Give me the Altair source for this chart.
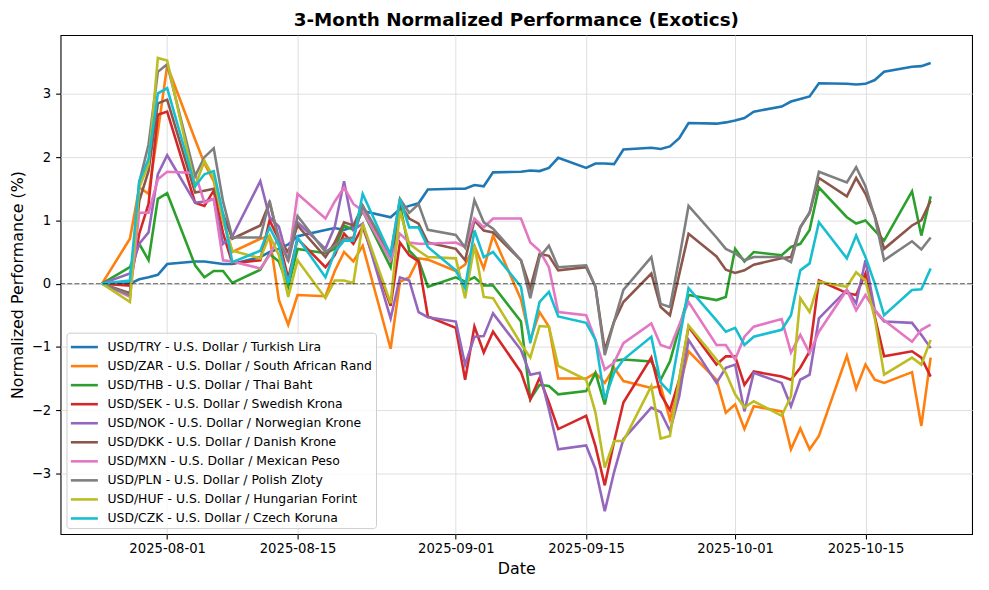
import altair as alt
import pandas as pd

DATES = [
    "2025-07-25",
    "2025-07-28", "2025-07-29", "2025-07-30", "2025-07-31", "2025-08-01",
    "2025-08-04", "2025-08-05", "2025-08-06", "2025-08-07", "2025-08-08",
    "2025-08-11", "2025-08-12", "2025-08-13", "2025-08-14", "2025-08-15",
    "2025-08-18", "2025-08-19", "2025-08-20", "2025-08-21", "2025-08-22",
    "2025-08-25", "2025-08-26", "2025-08-27", "2025-08-28", "2025-08-29",
    "2025-09-01", "2025-09-02", "2025-09-03", "2025-09-04", "2025-09-05",
    "2025-09-08", "2025-09-09", "2025-09-10", "2025-09-11", "2025-09-12",
    "2025-09-15", "2025-09-16", "2025-09-17", "2025-09-18", "2025-09-19",
    "2025-09-22", "2025-09-23", "2025-09-24", "2025-09-25", "2025-09-26",
    "2025-09-29", "2025-09-30", "2025-10-01", "2025-10-02", "2025-10-03",
    "2025-10-06", "2025-10-07", "2025-10-08", "2025-10-09", "2025-10-10",
    "2025-10-13", "2025-10-14", "2025-10-15", "2025-10-16", "2025-10-17",
    "2025-10-20", "2025-10-21", "2025-10-22",
]

SERIES = [
    "USD/TRY - U.S. Dollar / Turkish Lira",
    "USD/ZAR - U.S. Dollar / South African Rand",
    "USD/THB - U.S. Dollar / Thai Baht",
    "USD/SEK - U.S. Dollar / Swedish Krona",
    "USD/NOK - U.S. Dollar / Norwegian Krone",
    "USD/DKK - U.S. Dollar / Danish Krone",
    "USD/MXN - U.S. Dollar / Mexican Peso",
    "USD/PLN - U.S. Dollar / Polish Zloty",
    "USD/HUF - U.S. Dollar / Hungarian Forint",
    "USD/CZK - U.S. Dollar / Czech Koruna",
]

COLORS = ["#1f77b4", "#ff7f0e", "#2ca02c", "#d62728", "#9467bd",
          "#8c564b", "#e377c2", "#7f7f7f", "#bcbd22", "#17becf"]

TRY = [0, 0.0, 0.07, 0.1, 0.14, 0.31, 0.35, 0.35, 0.33, 0.31, 0.31,
       0.42, 0.5, 0.55, 0.62, 0.75,
       0.85, 0.88, 0.85, 0.9, 1.15,
       1.05, 1.18, 1.23, 1.27, 1.49,
       1.5, 1.5, 1.56, 1.54, 1.76,
       1.77, 1.79, 1.78, 1.83, 1.99,
       1.83, 1.9, 1.9, 1.89, 2.12,
       2.15, 2.13, 2.17, 2.3, 2.54,
       2.53, 2.55, 2.58, 2.62, 2.72,
       2.8, 2.88, 2.92, 2.96, 3.17,
       3.16, 3.15, 3.16, 3.22, 3.35,
       3.43, 3.44, 3.49]

ZAR = [0, 0.71, 1.52, 1.42, 2.4, 3.45, 2.28, 1.9, 1.62, 1.0, 0.5,
       0.71, 0.75, -0.26, -0.65, -0.18,
       -0.2, 0.2, 0.5, 0.35, 0.6,
       -1.03, 0.03, 0.1, 0.4, 0.38,
       0.2, 0.3, 0.6, 0.24, 0.76,
       -0.25, -0.89, -0.45, -0.68, -1.5,
       -1.5, -1.41, -1.57, -1.33, -1.54,
       -1.65, -1.62, -2.15, -1.65, -1.07,
       -1.52, -2.04, -1.91, -2.3, -1.94,
       -2.02, -2.62, -2.29, -2.62, -2.41,
       -1.14, -1.66, -1.28, -1.52, -1.57,
       -1.4, -2.25, -1.17]

THB = [0, 0.26, 0.63, 0.37, 1.34, 1.43, 0.29, 0.1, 0.2, 0.2, 0.01,
       0.22, 0.47, 0.35, -0.05, 0.55,
       0.48, 0.55, 0.92, 0.85, 1.15,
       0.26, 1.25, 0.52, 0.37, -0.05,
       0.1, 0.03, 0.1, -0.03, -0.03,
       -0.6, -1.83, -1.6, -1.62, -1.75,
       -1.7, -1.41, -1.91, -1.22, -1.2,
       -1.23, -1.52, -1.23, -0.7, -0.18,
       -0.26, -0.21, 0.55, 0.35, 0.5,
       0.45, 0.58, 0.63, 0.85, 1.52,
       1.05, 0.95, 1.0, 0.84, 0.68,
       1.46, 0.76, 1.38]

SEK = [0, -0.03, 0.79, 1.26, 2.67, 2.72, 1.28, 1.23, 1.47, 0.8, 0.32,
       0.37, 1.0, 0.7, 0.08, 0.71,
       0.26, 0.45, 0.79, 0.63, 0.9,
       -0.35, 0.65, 0.45, 0.35, -0.52,
       -0.7, -1.52, -0.68, -1.09, -0.76,
       -1.4, -1.83, -1.49, -1.88, -2.3,
       -2.09, -2.57, -3.19, -2.5, -1.88,
       -1.17, -1.75, -2.0, -1.52, -0.68,
       -1.28, -1.15, -1.15, -1.6, -1.39,
       -1.47, -1.52, -1.33, -1.07, 0.05,
       -0.15, -0.18, 0.16, -0.52, -1.15,
       -1.07, -1.17, -1.47]

NOK = [0, 0.16, 0.63, 0.81, 1.73, 2.03, 1.28, 1.3, 1.34, 0.63, 0.75,
       1.62, 1.05, 0.9, 0.35, 0.97,
       0.55, 0.9, 1.62, 0.85, 0.95,
       -0.55, 0.1, 0.05, -0.45, -0.53,
       -0.6, -1.28, -0.84, -0.83, -0.47,
       -1.05, -1.44, -1.41, -1.99, -2.62,
       -2.56, -2.93, -3.6, -2.98, -2.46,
       -1.96, -2.03, -2.33, -1.78, -0.89,
       -1.57, -1.33, -1.28, -2.02, -1.41,
       -1.57, -1.94, -1.52, -1.44, -0.55,
       -0.1, -0.31, 0.37, -0.42, -0.6,
       -0.62, -0.81, -1.02]

DKK = [0, -0.15, 1.31, 1.78, 2.85, 2.91, 1.44, 1.47, 1.5, 1.1, 0.71,
       0.92, 1.28, 0.7, 0.5, 0.92,
       0.42, 0.65, 0.97, 0.92, 1.23,
       0.37, 1.26, 1.03, 0.95, 0.65,
       0.55, 0.37, 1.0, 0.84, 0.81,
       0.37, -0.07, 0.47, 0.44, 0.21,
       0.26, -0.05, -1.05, -0.6, -0.29,
       0.16, -0.37, -0.5, 0.15, 0.79,
       0.43, 0.22, 0.17, 0.21, 0.3,
       0.4, 0.42, 0.89, 1.12, 1.67,
       1.38, 1.67, 1.42, 1.07, 0.55,
       0.92, 1.0, 1.31]

MXN = [0, -0.21, 1.12, 1.12, 1.65, 1.77, 1.75, 1.28, 1.34, 0.37, 0.35,
       0.24, 0.45, 0.75, 0.35, 1.42,
       1.03, 1.3, 1.52, 1.26, 1.15,
       0.37, 0.79, 0.65, 0.63, 0.63,
       0.65, 0.58, 1.03, 0.89, 1.03,
       1.03, 0.65, 0.52, 0.26, -0.45,
       -0.5, -0.89, -1.36, -1.25, -0.94,
       -0.63, -0.97, -1.02, -0.65, -0.29,
       -0.97, -0.97, -1.2, -0.84, -0.68,
       -0.56, -1.09, -0.81, -1.1, -0.76,
       -0.1, -0.42, -0.18, -0.42, -0.58,
       -0.92, -0.73, -0.65]

PLN = [0, -0.18, 1.6, 2.2, 3.35, 3.47, 1.7, 2.0, 2.14, 1.3, 0.73,
       0.73, 1.31, 0.68, 0.37, 1.07,
       0.5, 0.6, 0.71, 0.73, 1.23,
       0.47, 1.34, 1.12, 1.26, 0.85,
       0.77, 0.57, 1.32, 0.97, 0.87,
       0.37, -0.23, 0.42, 0.6, 0.26,
       0.29, -0.05, -1.13, -0.6, -0.1,
       0.42, -0.32, -0.37, 0.4, 1.23,
       0.73, 0.55, 0.48, 0.37, 0.42,
       0.42, 0.34, 0.89, 1.12, 1.77,
       1.6, 1.84, 1.54, 1.05, 0.37,
       0.67, 0.54, 0.73]

HUF = [0, -0.29, 1.52, 1.89, 3.57, 3.53, 1.54, 1.94, 1.67, 1.0, 0.52,
       0.4, 0.76, 0.45, -0.21, 0.37,
       -0.23, 0.05, 0.05, 0.01, 0.95,
       -0.31, 1.15, 0.63, 0.52, 0.42,
       0.4, -0.23, 0.6, -0.21, -0.23,
       -0.95, -1.17, -0.67, -0.68, -1.3,
       -1.52, -2.04, -2.91, -2.49, -2.49,
       -1.62, -2.45, -2.41, -1.5, -0.66,
       -1.2, -1.41, -1.75, -1.96, -1.86,
       -2.09, -1.78, -0.23, -0.45, 0.03,
       -0.05, 0.18, 0.05, -0.55, -1.44,
       -1.17, -1.28, -0.89]

CZK = [0, 0.05, 1.62, 1.97, 3.01, 3.09, 1.54, 1.73, 1.78, 1.1, 0.34,
       0.52, 0.89, 0.6, 0.0, 0.73,
       0.1, 0.5, 0.68, 0.68, 1.42,
       0.45, 1.34, 0.89, 0.89, 0.58,
       0.21, -0.07, 0.84, 0.42, 0.5,
       -0.05, -0.94, -0.29, -0.13, -0.52,
       -0.62, -0.89, -1.83, -1.41, -1.2,
       -0.84, -1.56, -1.72, -0.9, -0.07,
       -0.58, -0.76, -0.7, -0.97, -0.84,
       -0.73, -0.5, 0.21, 0.32, 0.97,
       0.4, 0.76, 0.42, 0.0, -0.5,
       -0.1, -0.09, 0.24]

TICK_DATES = ["2025-08-01", "2025-08-15", "2025-09-01",
              "2025-09-15", "2025-10-01", "2025-10-15"]
Y_TICKS = [-3, -2, -1, 0, 1, 2, 3]

VALUES = [TRY, ZAR, THB, SEK, NOK, DKK, MXN, PLN, HUF, CZK]

rows = []
for name, vals in zip(SERIES, VALUES):
    for d, v in zip(DATES, vals):
        rows.append({"date": d, "value": v, "series": name})
df = pd.DataFrame(rows)


def dt(s, h=0, m=0):
    y, mo, d = (int(p) for p in s.split("-"))
    return alt.DateTime(year=y, month=mo, date=d, hours=h, minutes=m, utc=True)


FONT = "DejaVu Sans"

x_enc = alt.X(
    "date:T",
    title="Date",
    scale=alt.Scale(type="utc", domain=[dt("2025-07-20", 13, 12), dt("2025-10-26", 10, 48)]),
    axis=alt.Axis(values=[dt(t) for t in TICK_DATES], format="%Y-%m-%d"),
)
y_enc = alt.Y(
    "value:Q",
    title="Normalized Performance (%)",
    scale=alt.Scale(domain=[-3.96, 3.93], nice=False, zero=False),
    axis=alt.Axis(values=Y_TICKS, format="d"),
)
color_enc = alt.Color(
    "series:N",
    scale=alt.Scale(domain=SERIES, range=COLORS),
    legend=alt.Legend(
        title=None,
        orient="none",
        legendX=6,
        legendY=300,
        symbolType="M-1,0L1.69,0",
        symbolSize=410,
        symbolStrokeWidth=2.6,
        symbolOpacity=1,
        labelFontSize=12.5,
        labelFont=FONT,
        labelColor="black",
        labelLimit=400,
        labelOffset=15.3,
        fillColor="rgba(255,255,255,0.8)",
        strokeColor="#cccccc",
        cornerRadius=3,
        padding=3,
        rowPadding=1.2,
    ),
)

base = alt.Chart(df)
layers = []
for name in SERIES:
    layers.append(
        base.transform_filter(alt.datum.series == name)
        .mark_line(strokeWidth=2.6)
        .encode(x=x_enc, y=y_enc, color=color_enc)
    )

zero = alt.Chart(pd.DataFrame({"v": [0]})).mark_rule(
    color="black", opacity=0.5, strokeDash=[5, 2.2], strokeWidth=1.33
).encode(y="v:Q")

chart = (
    alt.layer(*layers, zero)
    .properties(
        width=919,
        height=503,
        autosize=alt.AutoSizeParams(type="none"),
        padding={"left": 53, "top": 25, "right": 9, "bottom": 46},
        title=alt.TitleParams(
            "3-Month Normalized Performance (Exotics)",
            fontSize=18.5,
            fontWeight="bold",
            font=FONT,
            color="black",
            anchor="middle",
            offset=6,
        ),
    )
    .configure_view(stroke="black", strokeWidth=1.1)
    .configure_axis(
        labelFont=FONT,
        titleFont=FONT,
        labelFontSize=13.3,
        titleFontSize=16,
        labelColor="black",
        titleColor="black",
        titleFontWeight="normal",
        tickColor="black",
        tickSize=5,
        tickWidth=1.1,
        domain=False,
        gridColor="#dfdfdf",
        gridWidth=1,
    )
    .configure_axisX(labelPadding=3, titlePadding=5)
    .configure_axisY(labelPadding=5, titlePadding=6)
)

chart.save("out.html", embed_options={"renderer": "svg", "actions": False})
